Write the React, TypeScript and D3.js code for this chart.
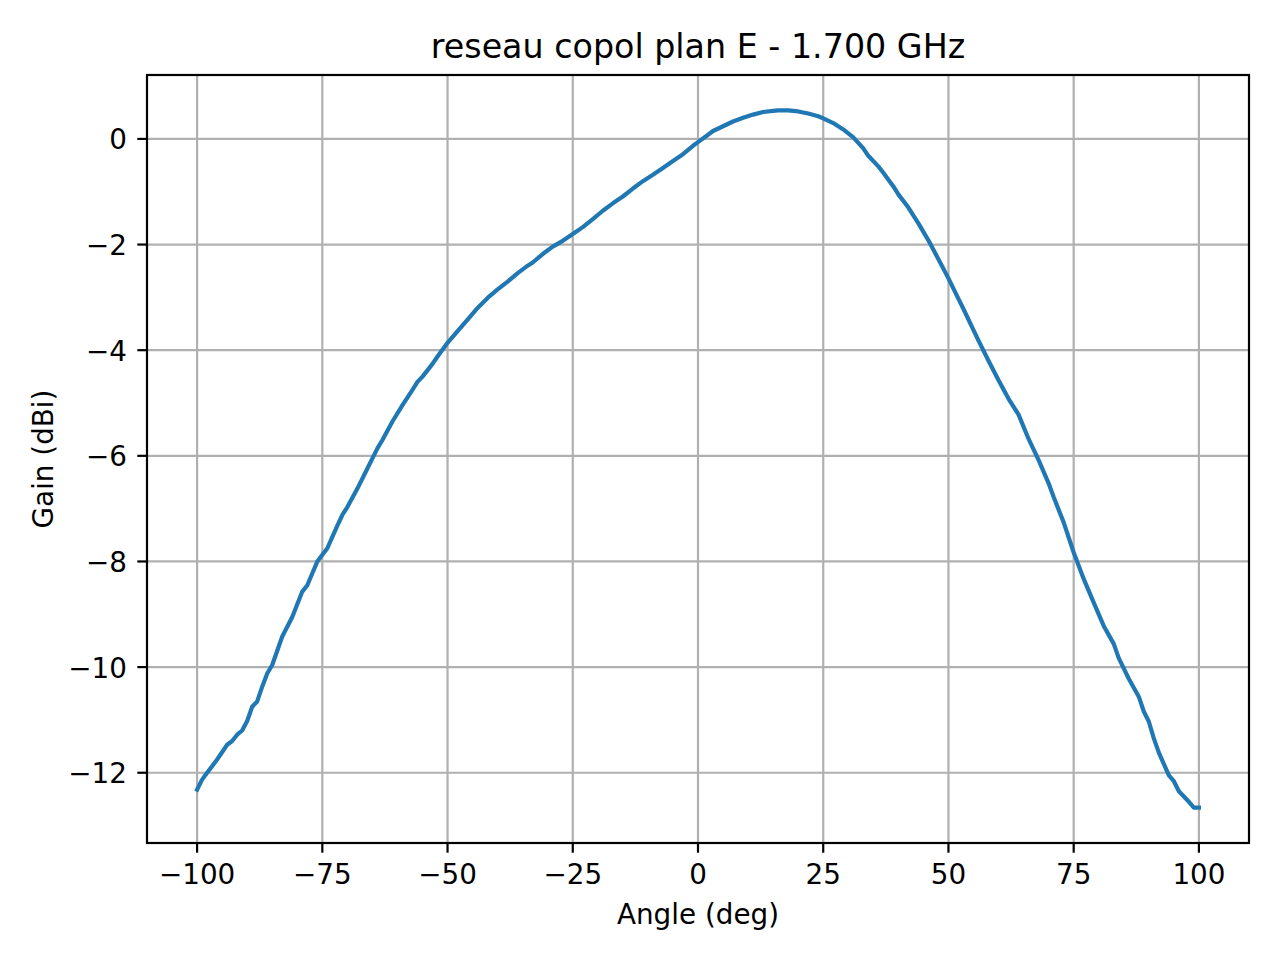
import React, { useEffect, useRef } from 'react';
import * as d3 from 'd3';

const angles = [
  -100, -99, -98, -96, -94, -93, -92, -91, -90, -89, -88, -87, -86, -85, -83, -81, -79, -78,
  -76, -74, -72, -71, -70, -68, -66, -64, -63, -61, -59, -57, -56, -55, -53, -52, -50, -48,
  -46, -44, -42, -40, -38, -36, -34, -33, -31, -29, -27, -25, -23, -21, -19, -17, -15, -13,
  -11, -9, -7, -5, -3, -1, 0, 2, 3, 5, 7, 9, 11, 13, 15, 16, 18, 20, 22, 24, 25, 27, 29, 31,
  33, 34, 36, 37, 39, 40, 42, 44, 46, 47, 48, 50, 52, 53, 55, 56, 58, 60, 62, 64, 66, 68, 70,
  71, 73, 75, 77, 79, 81, 83, 84, 86, 88, 89, 90, 91, 92, 94, 95, 96, 97, 98, 99, 100,
];
const gains = [
  -12.32, -12.13, -12.0, -11.75, -11.47, -11.4, -11.28, -11.2, -11.02, -10.75, -10.65, -10.37,
  -10.12, -9.96, -9.42, -9.05, -8.57, -8.45, -8.0, -7.75, -7.32, -7.12, -6.97, -6.62, -6.24,
  -5.86, -5.7, -5.35, -5.04, -4.75, -4.6, -4.5, -4.26, -4.12, -3.86, -3.64, -3.42, -3.2, -3.01,
  -2.85, -2.7, -2.54, -2.4, -2.34, -2.18, -2.04, -1.93, -1.8, -1.67, -1.52, -1.36, -1.22, -1.09,
  -0.94, -0.8, -0.68, -0.55, -0.42, -0.29, -0.13, -0.06, 0.08, 0.15, 0.24, 0.33, 0.4, 0.46, 0.51,
  0.53, 0.54, 0.54, 0.52, 0.48, 0.43, 0.39, 0.3, 0.18, 0.03, -0.18, -0.32, -0.52, -0.64, -0.9,
  -1.05, -1.3, -1.6, -1.92, -2.1, -2.28, -2.64, -3.03, -3.22, -3.62, -3.82, -4.2, -4.57, -4.92,
  -5.22, -5.68, -6.08, -6.52, -6.78, -7.26, -7.83, -8.33, -8.78, -9.22, -9.56, -9.83, -10.22,
  -10.56, -10.84, -11.03, -11.35, -11.62, -12.05, -12.16, -12.35, -12.45, -12.55, -12.66, -12.66,
];
const xTicks = [-100, -75, -50, -25, 0, 25, 50, 75, 100];
const yTicks = [-12, -10, -8, -6, -4, -2, 0];

const title = 'reseau copol plan E - 1.700 GHz';
const xLabel = 'Angle (deg)';
const yLabel = 'Gain (dBi)';

const App: React.FC = () => {
  const svgRef = useRef<SVGSVGElement>(null);

  useEffect(() => {
    if (!svgRef.current) return;

    const width = 1280;
    const height = 960;
    const margin = { top: 75, right: 31, bottom: 117, left: 147 };
    const font = '"DejaVu Sans", Verdana, sans-serif';

    d3.select(svgRef.current).selectAll('*').remove();

    const svg = d3.select(svgRef.current)
      .attr('width', width)
      .attr('height', height);

    svg.append('rect')
      .attr('width', width)
      .attr('height', height)
      .attr('fill', '#ffffff');

    const x = d3.scaleLinear()
      .domain([-110, 110])
      .range([margin.left, width - margin.right]);

    const y = d3.scaleLinear()
      .domain([-13.33, 1.21])
      .range([height - margin.bottom, margin.top]);

    const fmt = d3.format('d');

    // grid
    svg.append('g')
      .selectAll('line')
      .data(xTicks)
      .enter()
      .append('line')
      .attr('x1', d => x(d))
      .attr('x2', d => x(d))
      .attr('y1', margin.top)
      .attr('y2', height - margin.bottom)
      .attr('stroke', '#b0b0b0')
      .attr('stroke-width', 2.2);

    svg.append('g')
      .selectAll('line')
      .data(yTicks)
      .enter()
      .append('line')
      .attr('x1', margin.left)
      .attr('x2', width - margin.right)
      .attr('y1', d => y(d))
      .attr('y2', d => y(d))
      .attr('stroke', '#b0b0b0')
      .attr('stroke-width', 2.2);

    // curve
    const points: [number, number][] = angles.map((a, i) => [a, gains[i]]);
    const line = d3.line<[number, number]>()
      .x(d => x(d[0]))
      .y(d => y(d[1]));

    svg.append('path')
      .datum(points)
      .attr('d', line)
      .attr('fill', 'none')
      .attr('stroke', '#1f77b4')
      .attr('stroke-width', 4.2)
      .attr('stroke-linejoin', 'round')
      .attr('stroke-linecap', 'square');

    // spines
    svg.append('rect')
      .attr('x', margin.left)
      .attr('y', margin.top)
      .attr('width', width - margin.left - margin.right)
      .attr('height', height - margin.top - margin.bottom)
      .attr('fill', 'none')
      .attr('stroke', '#000000')
      .attr('stroke-width', 2.2);

    // x ticks
    const xg = svg.append('g');
    xg.selectAll('line')
      .data(xTicks)
      .enter()
      .append('line')
      .attr('x1', d => x(d))
      .attr('x2', d => x(d))
      .attr('y1', height - margin.bottom)
      .attr('y2', height - margin.bottom + 9.7)
      .attr('stroke', '#000000')
      .attr('stroke-width', 2.2);
    xg.selectAll('text')
      .data(xTicks)
      .enter()
      .append('text')
      .attr('x', d => x(d))
      .attr('y', height - margin.bottom + 41)
      .attr('text-anchor', 'middle')
      .style('font-family', font)
      .style('font-size', '27.8px')
      .style('fill', '#000000')
      .text(d => fmt(d));

    // y ticks
    const yg = svg.append('g');
    yg.selectAll('line')
      .data(yTicks)
      .enter()
      .append('line')
      .attr('x1', margin.left - 9.7)
      .attr('x2', margin.left)
      .attr('y1', d => y(d))
      .attr('y2', d => y(d))
      .attr('stroke', '#000000')
      .attr('stroke-width', 2.2);
    yg.selectAll('text')
      .data(yTicks)
      .enter()
      .append('text')
      .attr('x', margin.left - 20)
      .attr('y', d => y(d) + 10.5)
      .attr('text-anchor', 'end')
      .style('font-family', font)
      .style('font-size', '27.8px')
      .style('fill', '#000000')
      .text(d => fmt(d));

    // labels
    svg.append('text')
      .attr('x', (margin.left + width - margin.right) / 2)
      .attr('y', 58)
      .attr('text-anchor', 'middle')
      .style('font-family', font)
      .style('font-size', '33.3px')
      .style('fill', '#000000')
      .text(title);

    svg.append('text')
      .attr('x', (margin.left + width - margin.right) / 2)
      .attr('y', 924)
      .attr('text-anchor', 'middle')
      .style('font-family', font)
      .style('font-size', '27.8px')
      .style('fill', '#000000')
      .text(xLabel);

    const cy = (margin.top + height - margin.bottom) / 2;
    svg.append('text')
      .attr('transform', `translate(53,${cy}) rotate(-90)`)
      .attr('text-anchor', 'middle')
      .style('font-family', font)
      .style('font-size', '27.8px')
      .style('fill', '#000000')
      .text(yLabel);
  }, []);

  return (
    <div style={{ position: 'absolute', left: 0, top: 0 }}>
      <svg ref={svgRef} style={{ display: 'block' }} />
    </div>
  );
};

export default App;
